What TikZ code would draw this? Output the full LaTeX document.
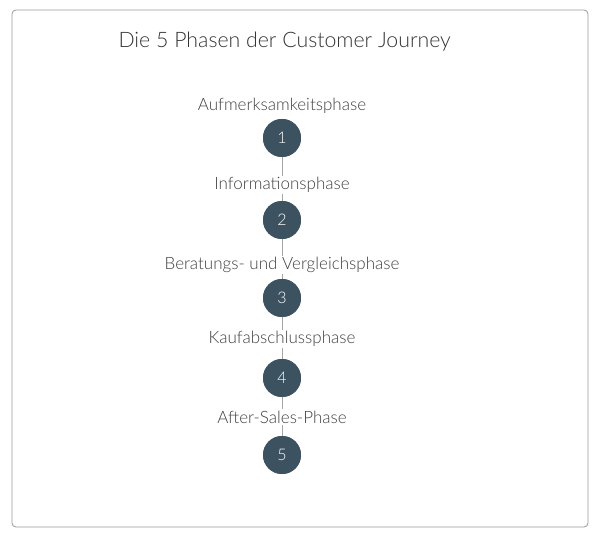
\documentclass[tikz,border=0pt]{standalone}
\usepackage{fontspec}
\setmainfont{Lato Light}[BoldFont=Lato]
\begin{document}
\begin{tikzpicture}[x=1pt,y=-1pt,
  phase/.style={circle,fill=phasecol,minimum size=38pt,inner sep=0pt,text=white,font=\fontsize{16}{16}\selectfont},
  lab/.style={fill=white,inner sep=1.5pt,text=black!75,font=\fontsize{17}{17}\selectfont}]
\definecolor{phasecol}{HTML}{3D5260}
\useasboundingbox (0,0) rectangle (600,537);
\draw[rounded corners=4pt,draw=black!40,line width=0.8pt] (12,10) rectangle (588,527);
\node[anchor=west,text=black!80,font=\fontsize{21.3}{21.3}\selectfont] (title) at (115,42) {Die 5 Phasen der Customer Journey};
\foreach \i/\y in {1/138,2/220,3/298,4/378,5/455}{\node[phase] (c\i) at (282,\y) {\i};}
\draw[black!35,line width=0.8pt] (c1) -- (c2) -- (c3) -- (c4) -- (c5);
\foreach \i/\y in {1/138,2/220,3/298,4/378,5/455}{\node[phase] at (282,\y) {\i};}
\node[lab] (l1) at (282,106) {Aufmerksamkeitsphase};
\node[lab] (l2) at (282,185) {Informationsphase};
\node[lab] (l3) at (282,265) {Beratungs- und Vergleichsphase};
\node[lab] (l4) at (282,339) {Kaufabschlussphase};
\node[lab] (l5) at (282,417) {After-Sales-Phase};
\end{tikzpicture}
\end{document}
